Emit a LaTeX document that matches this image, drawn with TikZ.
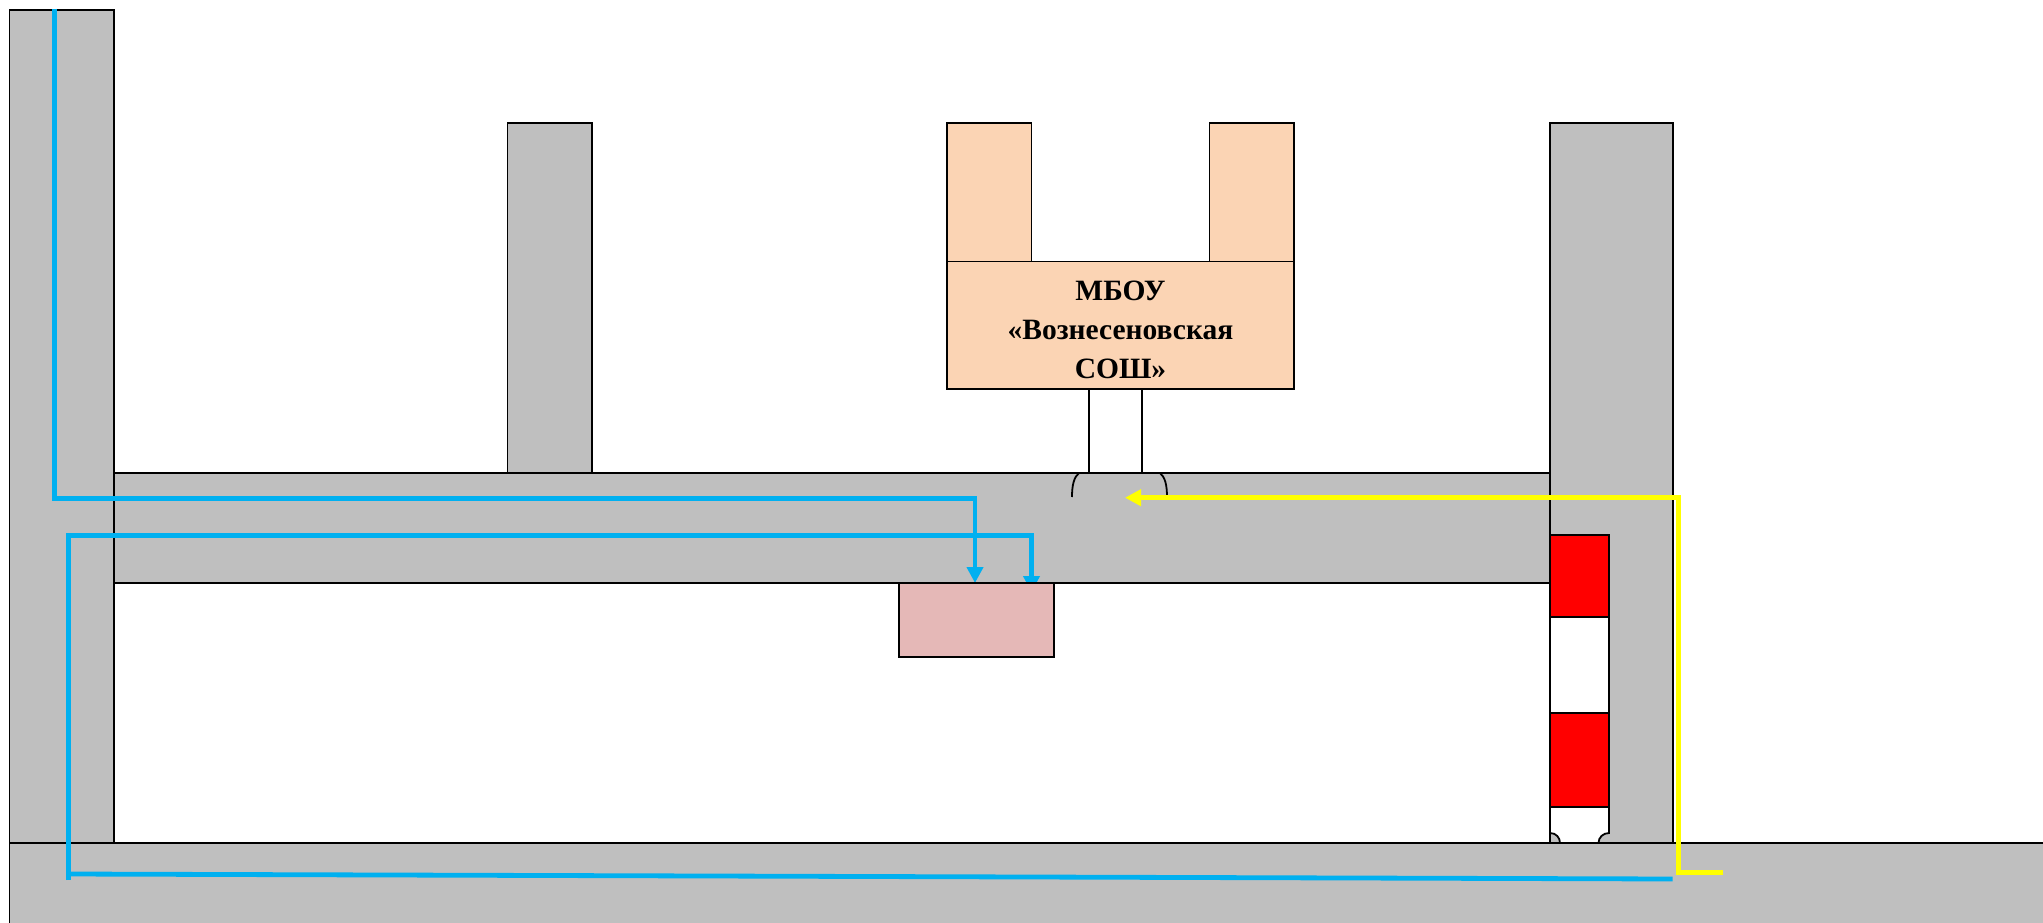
\documentclass[tikz,border=0pt]{standalone}
\usepackage{fontspec}
\setmainfont{Liberation Serif}
\usetikzlibrary{arrows.meta}
\definecolor{wallgray}{HTML}{BFBFBF}
\definecolor{peach}{HTML}{FBD4B4}
\definecolor{rosebox}{HTML}{E5B8B7}
\definecolor{routeblue}{HTML}{00B0F0}
\definecolor{routeyellow}{HTML}{FFFF00}
\tikzset{
  px/.style={x=1pt,y=-1pt},
  wall/.style={draw=black,line width=1.8pt,fill=wallgray,rectangle},
  edge/.style={draw=black,line width=1.8pt},
  school/.style={draw=black,line width=1.8pt,fill=peach},
  redband/.style={draw=black,line width=1.8pt,fill=red},
  whiteband/.style={draw=black,line width=1.8pt,fill=white},
  blueroute/.style={draw=routeblue,line width=4.8pt,line cap=butt,line join=miter},
  blueend/.style={blueroute,-{Triangle[length=16pt,width=16pt]}},
  yellowroute/.style={draw=routeyellow,line width=5pt,line join=miter},
}
\begin{document}
\begin{tikzpicture}[px]
\useasboundingbox (0,0) rectangle (2043,923);
\clip (0,0) rectangle (2043,923);
% walls
\path[wall] (9.5,10) rectangle (114,843);
\path[wall] (507.5,123) rectangle (592,473);
\path[wall] (114,473) rectangle (1550,583);
\path[wall] (1550,123) rectangle (1673,843);
\path[wall] (9.5,843) rectangle (2060,940);
% south door gap in the right wall
\path[whiteband] (1550,807) -- (1609,807) -- (1609,833) .. controls (1603,833) and (1598.5,837.5) .. (1598.5,843) -- (1560,843) .. controls (1560,837.5) and (1556,833) .. (1550,833) -- cycle;
\path[whiteband] (1550,617) rectangle (1609,713);
\path[redband] (1550,535) rectangle (1609,617);
\path[redband] (1550,713) rectangle (1609,807);
% porch
\path[whiteband] (1089,389) rectangle (1142,473);
\draw[edge] (1072,497) .. controls (1072,485) and (1074,477) .. (1079,473);
\draw[edge] (1167,497) .. controls (1167,485) and (1165,477) .. (1160,473);
% routes
\coordinate (bluestart) at (54.5,9);
\coordinate (bluecorner) at (54.5,498.5);
\coordinate (bluedrop) at (975,498.5);
\coordinate (bluebelow) at (975,583);
\coordinate (bluefarstart) at (68.7,880);
\coordinate (bluefarcorner) at (68.7,535.5);
\coordinate (bluefarturn) at (1031.5,535.5);
\coordinate (bluefarend) at (1031.5,592);
\coordinate (bluebottomleft) at (66.4,874);
\coordinate (bluebottomright) at (1672.7,879);
\draw[blueroute] (bluebottomleft) -- (bluebottomright);
\draw[blueend] (bluefarstart) -- (bluefarcorner) -- (bluefarturn) -- (bluefarend);
\draw[blueend] (bluestart) -- (bluecorner) -- (bluedrop) -- (bluebelow);
\coordinate (yellowstart) at (1723,872.7);
\coordinate (yellowcorner) at (1678,872.7);
\coordinate (yellowtop) at (1678,497.7);
\coordinate (yellowend) at (1125,497.7);
\draw[yellowroute,-{Triangle[length=16pt,width=16pt]}] (yellowstart) -- (yellowcorner) -- (yellowtop) -- (yellowend);
% destination and school
\node[draw=black,line width=1.8pt,fill=rosebox,minimum width=155pt,minimum height=74pt,inner sep=0pt,outer sep=0pt,anchor=north west] (canteen) at (899,583) {};
\path[school] (947,123) rectangle (1031.5,261.5);
\path[school] (1209.5,123) rectangle (1294,261.5);
\node[school,minimum width=347pt,minimum height=127.5pt,inner sep=0pt,outer sep=0pt,anchor=north west] (main) at (947,261.5) {};
\node[align=center,font=\fontsize{29.5}{39}\selectfont\bfseries,inner sep=0pt] (label) at (1120.5,329.5) {МБОУ\\«Вознесеновская\\СОШ»};
\end{tikzpicture}
\end{document}
